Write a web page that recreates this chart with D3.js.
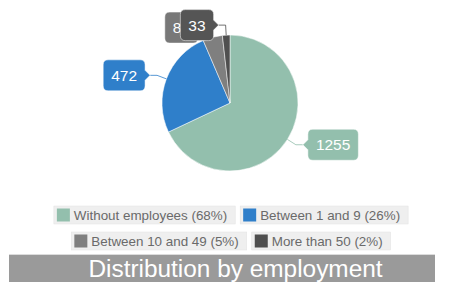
<!DOCTYPE html>
<html><head><meta charset="utf-8">
<script src="https://cdn.jsdelivr.net/npm/d3@7"></script>
<style>html,body{margin:0;padding:0;background:#fff;}svg{display:block;}</style>
</head><body>
<svg id="c" width="450" height="282"></svg>
<script>
const categories = ["Without employees", "Between 1 and 9", "Between 10 and 49", "More than 50"];
const values = [1255, 472, 86, 33];
const colors = ["#93bfad", "#2f7fca", "#7f7f7f", "#4f4f4f"];
const boxColors = ["#93bfad", "#2f7fca", "#787878", "#555555"];
const title = "Distribution by employment";

const W = 450, H = 282;
const svg = d3.select("#c");
const font = "'Liberation Sans', Arial, sans-serif";
const cx = 230, cy = 103, r = 68;
const total = d3.sum(values);

const pie = d3.pie().sort(null).value(d => d)(values);
const arc = d3.arc().innerRadius(0).outerRadius(r);
const g = svg.append("g").attr("transform", `translate(${cx},${cy})`);
g.selectAll("path.s").data(pie).join("path").attr("class","s")
  .attr("d", arc).attr("fill", (d,i) => colors[i]).attr("stroke","#fff").attr("stroke-width",0.5);

// labels with callouts
const lab = svg.append("g");
pie.forEach((d,i) => {
  const a = (d.startAngle + d.endAngle) / 2;
  const ex = cx + r * Math.sin(a), ey = cy - r * Math.cos(a);
  const bx = cx + (r + 10) * Math.sin(a), by = cy - (r + 10) * Math.cos(a);
  const right = Math.sin(a) > 0;
  const tipX = bx + (right ? 7 : -7);
  const txt = String(values[i]);
  const t = lab.append("text").attr("font-family", font).attr("font-size", 15.5).text(txt);
  const tw = t.node().getComputedTextLength();
  t.remove();
  const bw = tw + 16, bh = 31, rr = 5, pl = 5;
  const x0 = right ? tipX + pl : tipX - pl - bw;
  const y0 = by - bh / 2;
  lab.append("path")
    .attr("d", `M${ex},${ey}L${bx},${by}L${tipX},${by}`)
    .attr("fill","none").attr("stroke", colors[i]).attr("stroke-width",1).attr("opacity",0.8);
  const x1 = x0 + bw, y1 = y0 + bh;
  let p;
  if (right) {
    p = `M${x0+rr},${y0}H${x1-rr}Q${x1},${y0} ${x1},${y0+rr}V${y1-rr}Q${x1},${y1} ${x1-rr},${y1}H${x0+rr}Q${x0},${y1} ${x0},${y1-rr}` +
        `V${by+5}L${tipX},${by}L${x0},${by-5}V${y0+rr}Q${x0},${y0} ${x0+rr},${y0}Z`;
  } else {
    p = `M${x0+rr},${y0}H${x1-rr}Q${x1},${y0} ${x1},${y0+rr}V${by-5}L${tipX},${by}L${x1},${by+5}V${y1-rr}Q${x1},${y1} ${x1-rr},${y1}H${x0+rr}Q${x0},${y1} ${x0},${y1-rr}` +
        `V${y0+rr}Q${x0},${y0} ${x0+rr},${y0}Z`;
  }
  lab.append("path").attr("d", p).attr("fill", boxColors[i]).attr("stroke","#fff").attr("stroke-width",0.5);
  lab.append("text").attr("x", x0 + bw/2).attr("y", by + 5.5).attr("text-anchor","middle")
    .attr("font-family", font).attr("font-size", 15.5).attr("fill","#fff").text(txt);
});

// legend
const legendItems = categories.map((c,i) => ({label: `${c} (${Math.round(values[i]/total*100)}%)`, color: colors[i]}));
const rows = [[0,1],[2,3]];
const rowY = [206, 232];
const fs = 13.4;
const leg = svg.append("g");
rows.forEach((row, ri) => {
  const items = row.map(i => {
    const t = leg.append("text").attr("font-family", font).attr("font-size", fs).text(legendItems[i].label);
    const w = t.node().getComputedTextLength(); t.remove();
    return {i, w: w + 28};
  });
  const gap = 5;
  const totalW = d3.sum(items, d => d.w) + gap * (items.length - 1);
  let x = 231 - totalW / 2;
  items.forEach(it => {
    const y = rowY[ri];
    leg.append("rect").attr("x", x).attr("y", y).attr("width", it.w).attr("height", 18)
      .attr("fill", "#efefef").attr("stroke","#e2e2e2").attr("stroke-width",0.5);
    leg.append("rect").attr("x", x + 3).attr("y", y + 2.5).attr("width", 13).attr("height", 13)
      .attr("fill", legendItems[it.i].color);
    leg.append("text").attr("x", x + 20).attr("y", y + 13.8).attr("font-family", font)
      .attr("font-size", fs).attr("fill", "#6a6a6a").text(legendItems[it.i].label);
    x += it.w + gap;
  });
});

// title bar
svg.append("line").attr("x1", 9).attr("x2", 435).attr("y1", 254.5).attr("y2", 254.5).attr("stroke","#dcdcdc");
svg.append("rect").attr("x", 9).attr("y", 255).attr("width", 426).attr("height", 27).attr("fill", "#9a9a9a");
svg.append("text").attr("x", 235.5).attr("y", 277).attr("text-anchor","middle").attr("font-family", font)
  .attr("font-size", 24.4).attr("fill","#fff").text(title);
</script>
</body></html>
